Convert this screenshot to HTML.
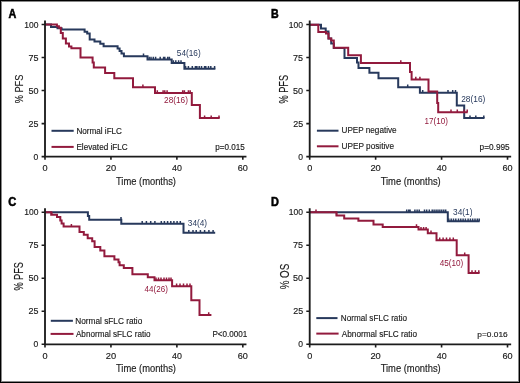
<!DOCTYPE html>
<html><head><meta charset="utf-8"><style>html,body{margin:0;padding:0;background:#fff;width:520px;height:383px;overflow:hidden}</style></head>
<body><svg width="520" height="383" viewBox="0 0 520 383" style="display:block;filter:blur(0.3px);font-family:'Liberation Sans', sans-serif">
<rect x="0" y="0" width="520" height="383" fill="#fff"/>
<path d="M45 24.6H51V27H57.5V28.2H61.6V29.5H84.6V31.8H87.2V33.5H89.7V39.5H94.5V41.4H100.3V43.8H103.6V46.2H117.6V48.6H119.6V51.1H121.5V53.5H123.9V56.2H147.5V59.5H171.7V63.0H184.4V68.8H215.4" stroke="#27395c" stroke-width="2.0" fill="none" stroke-linejoin="miter" stroke-linecap="butt"/><path d="M143.5 56.2V53.5M149.2 59.5V56.8M151 59.5V56.8M153.3 59.5V56.8M155.6 59.5V56.8M160.2 59.5V56.8M163.6 59.5V56.8M164.8 59.5V56.8M167.7 59.5V56.8M169.4 59.5V56.8M173.4 63.0V60.3M175.8 63.0V60.3M178.6 63.0V60.3M181 63.0V60.3M185.6 68.8V66.1M188.4 68.8V66.1M192.3 68.8V66.1M195.4 68.8V66.1M196.9 68.8V66.1M199.2 68.8V66.1M201.5 68.8V66.1M204.6 68.8V66.1M205.8 68.8V66.1M208.5 68.8V66.1M210.8 68.8V66.1M214.6 68.8V66.1" stroke="#27395c" stroke-width="1.5" fill="none"/><path d="M45 24.6H56.9V26.3H58.9V27.8H60.8V32.9H62.8V38.4H65.9V43.5H69.0V46.6H71.4V48.2H80.5V57.5H92.6V62.5H93.8V67.5H105.1V72.9H114.3V78.3H133.0V87.3H155.0V93.0H191.8V105.1H199.9V118.1H219.7" stroke="#921a3d" stroke-width="2.0" fill="none" stroke-linejoin="miter" stroke-linecap="butt"/><path d="M142.9 87.3V84.6M157.3 93.0V90.3M163.1 93.0V90.3M164.8 93.0V90.3M167.1 93.0V90.3M182.7 93.0V90.3M184.4 93.0V90.3M188.4 93.0V90.3M190.2 93.0V90.3M204.6 118.1V115.39999999999999M211.2 118.1V115.39999999999999M219.0 118.1V115.39999999999999" stroke="#921a3d" stroke-width="1.5" fill="none"/><path d="M309.7 24.7H321V28.5H325.7V31.5H328.5V38.5H331.2V43.5H333.8V48.0H344.5V57.9H357.0V62.4H358.5V67.9H369.4V72.8H378.5V78.2H398.2V87.2H419.9V92.7H456.8V105.4H464.2V118.1H484.5" stroke="#27395c" stroke-width="2.0" fill="none" stroke-linejoin="miter" stroke-linecap="butt"/><path d="M407.7 87.2V84.5M422.7 92.7V90.0M448 92.7V90.0M452.7 92.7V90.0M455.5 92.7V90.0M470 118.1V115.39999999999999M475.8 118.1V115.39999999999999M483.8 118.1V115.39999999999999" stroke="#27395c" stroke-width="1.5" fill="none"/><path d="M309.7 24.7H318.3V32.0H326.0V33.5H328.5V38.5H331.2V40.5H333.8V47.8H348.2V55.2H360.9V63.0H410.0V71.9H411.6V79.5H428.5V91.5H437.2V103.1H438.2V112.3H467.7" stroke="#921a3d" stroke-width="2.0" fill="none" stroke-linejoin="miter" stroke-linecap="butt"/><path d="M400.8 63.0V60.3M415.8 79.5V76.8M419.9 79.5V76.8M451 112.3V109.6M457.3 112.3V109.6M464.2 112.3V109.6M467.2 112.3V109.6" stroke="#921a3d" stroke-width="1.5" fill="none"/><path d="M45 212.2H87.9V215.9H89.2V219.8H121.3V223.7H183.5V232.8H215.2" stroke="#27395c" stroke-width="2.0" fill="none" stroke-linejoin="miter" stroke-linecap="butt"/><path d="M121 219.8V217.10000000000002M142.2 223.7V221.0M146.4 223.7V221.0M150.7 223.7V221.0M154.9 223.7V221.0M161.3 223.7V221.0M164.4 223.7V221.0M167.6 223.7V221.0M170.8 223.7V221.0M173.9 223.7V221.0M177.1 223.7V221.0M180.3 223.7V221.0M188.8 232.8V230.10000000000002M193 232.8V230.10000000000002M196.2 232.8V230.10000000000002M200.4 232.8V230.10000000000002M204.6 232.8V230.10000000000002M208.9 232.8V230.10000000000002M213.1 232.8V230.10000000000002" stroke="#27395c" stroke-width="1.5" fill="none"/><path d="M45 212.2H51.2V214.8H57.0V217.1H60.3V220.4H61.6V223.6H63.6V226.6H79.5V232.1H83.8V234.7H87.7V238.2H92.2V241.2H94.6V247.1H100.3V250.6H104.4V256.2H114.4V259.4H118.5V262.3H119.6V265.2H123.8V268.0H132.4V274.2H147.8V277.3H154.5V280.2H172.1V286.2H191.3V300.3H199.5V315.0H211.4" stroke="#921a3d" stroke-width="2.0" fill="none" stroke-linejoin="miter" stroke-linecap="butt"/><path d="M51.8 214.8V212.10000000000002M71.4 226.6V223.9M156 280.2V277.5M158.5 280.2V277.5M161 280.2V277.5M164 280.2V277.5M166.5 280.2V277.5M169 280.2V277.5M171 280.2V277.5M176.6 286.2V283.5M180 286.2V283.5M183.5 286.2V283.5M187 286.2V283.5M190 286.2V283.5M208.7 315.0V312.3" stroke="#921a3d" stroke-width="1.5" fill="none"/><path d="M309.7 212.3H447.8V221.3H479.7" stroke="#27395c" stroke-width="2.0" fill="none" stroke-linejoin="miter" stroke-linecap="butt"/><path d="M406.7 212.3V209.60000000000002M408.7 212.3V209.60000000000002M410.1 212.3V209.60000000000002M414.9 212.3V209.60000000000002M417.1 212.3V209.60000000000002M419.2 212.3V209.60000000000002M424.5 212.3V209.60000000000002M426.7 212.3V209.60000000000002M429.3 212.3V209.60000000000002M432.2 212.3V209.60000000000002M434.1 212.3V209.60000000000002M436.1 212.3V209.60000000000002M438 212.3V209.60000000000002M439.9 212.3V209.60000000000002M441.8 212.3V209.60000000000002M443.8 212.3V209.60000000000002M445.7 212.3V209.60000000000002M448.8 221.3V218.60000000000002M451.2 221.3V218.60000000000002M453.5 221.3V218.60000000000002M455.8 221.3V218.60000000000002M458.5 221.3V218.60000000000002M460.8 221.3V218.60000000000002M463.1 221.3V218.60000000000002M465.4 221.3V218.60000000000002M468.1 221.3V218.60000000000002M470.4 221.3V218.60000000000002M472.7 221.3V218.60000000000002M475 221.3V218.60000000000002M477.3 221.3V218.60000000000002M479.2 221.3V218.60000000000002" stroke="#27395c" stroke-width="1.5" fill="none"/><path d="M309.7 212.3H336.5V215.4H344.2V218.5H358.4V220.7H373.5V224.4H382.7V226.9H418.5V229.6H427.8V233.2H436.5V240.3H456.7V255.3H468.6V272.9H479.6" stroke="#921a3d" stroke-width="2.0" fill="none" stroke-linejoin="miter" stroke-linecap="butt"/><path d="M316 212.3V209.60000000000002M336.5 215.4V212.70000000000002M416.5 226.9V224.20000000000002M421 229.6V226.9M423.6 229.6V226.9M426.1 229.6V226.9M431 233.2V230.5M439.7 240.3V237.60000000000002M443.1 240.3V237.60000000000002M446.5 240.3V237.60000000000002M449.9 240.3V237.60000000000002M453.3 240.3V237.60000000000002M464.7 255.3V252.60000000000002M472 272.9V270.2M475.4 272.9V270.2M478.8 272.9V270.2" stroke="#921a3d" stroke-width="1.5" fill="none"/><path d="M51.5 130.8H73.7" stroke="#27395c" stroke-width="2"/><path d="M51.5 146.9H73.7" stroke="#921a3d" stroke-width="2"/><path d="M316.9 130.7H338.5" stroke="#27395c" stroke-width="2"/><path d="M316.9 146.3H338.5" stroke="#921a3d" stroke-width="2"/><path d="M50.8 320.8H72.9" stroke="#27395c" stroke-width="2"/><path d="M50.6 333.9H73.5" stroke="#921a3d" stroke-width="2"/><path d="M316.3 318.1H337.5" stroke="#27395c" stroke-width="2"/><path d="M316.3 333.6H338.6" stroke="#921a3d" stroke-width="2"/>
<path d="M45.00 20.46V157.60M44.00 156.60H246.45" stroke="#1c1c1c" stroke-width="1.85" fill="none"/><path d="M41.60 24.55H45.00M41.60 57.56H45.00M41.60 90.57H45.00M41.60 123.59H45.00M41.60 156.60H45.00M45.00 156.60V159.80M110.94 156.60V159.80M176.88 156.60V159.80M242.82 156.60V159.80" stroke="#1c1c1c" stroke-width="1.6" fill="none"/><path d="M309.70 20.46V157.60M308.70 156.60H511.15" stroke="#1c1c1c" stroke-width="1.85" fill="none"/><path d="M306.30 24.55H309.70M306.30 57.56H309.70M306.30 90.57H309.70M306.30 123.59H309.70M306.30 156.60H309.70M309.70 156.60V159.80M375.64 156.60V159.80M441.58 156.60V159.80M507.52 156.60V159.80" stroke="#1c1c1c" stroke-width="1.6" fill="none"/><path d="M45.00 208.16V345.30M44.00 344.30H246.45" stroke="#1c1c1c" stroke-width="1.85" fill="none"/><path d="M41.60 212.25H45.00M41.60 245.26H45.00M41.60 278.27H45.00M41.60 311.29H45.00M41.60 344.30H45.00M45.00 344.30V347.50M110.94 344.30V347.50M176.88 344.30V347.50M242.82 344.30V347.50" stroke="#1c1c1c" stroke-width="1.6" fill="none"/><path d="M309.70 208.16V345.30M308.70 344.30H511.15" stroke="#1c1c1c" stroke-width="1.85" fill="none"/><path d="M306.30 212.25H309.70M306.30 245.26H309.70M306.30 278.27H309.70M306.30 311.29H309.70M306.30 344.30H309.70M309.70 344.30V347.50M375.64 344.30V347.50M441.58 344.30V347.50M507.52 344.30V347.50" stroke="#1c1c1c" stroke-width="1.6" fill="none"/>
<text transform="translate(8.48,18.35) scale(0.8532,1)" font-size="12.61" font-weight="700" fill="#000" stroke="#000" stroke-width="0.55">A</text>
<text transform="translate(270.95,18.35) scale(0.8451,1)" font-size="12.61" font-weight="700" fill="#000" stroke="#000" stroke-width="0.55">B</text>
<text transform="translate(8.36,205.65) scale(0.8685,1)" font-size="12.75" font-weight="700" fill="#000" stroke="#000" stroke-width="0.55">C</text>
<text transform="translate(270.93,205.55) scale(0.8612,1)" font-size="12.75" font-weight="700" fill="#000" stroke="#000" stroke-width="0.55">D</text>
<text transform="translate(24.17,27.50) scale(0.9478,1)" font-size="8.99" font-weight="400" fill="#1a1a1a" stroke="#1a1a1a" stroke-width="0.15">100</text>
<text transform="translate(28.40,60.51) scale(1.0038,1)" font-size="8.99" font-weight="400" fill="#1a1a1a" stroke="#1a1a1a" stroke-width="0.15">75</text>
<text transform="translate(28.39,93.52) scale(1.0049,1)" font-size="8.99" font-weight="400" fill="#1a1a1a" stroke="#1a1a1a" stroke-width="0.15">50</text>
<text transform="translate(28.50,126.54) scale(0.9929,1)" font-size="8.99" font-weight="400" fill="#1a1a1a" stroke="#1a1a1a" stroke-width="0.15">25</text>
<text transform="translate(33.61,159.55) scale(0.9506,1)" font-size="8.99" font-weight="400" fill="#1a1a1a" stroke="#1a1a1a" stroke-width="0.15">0</text>
<text transform="translate(42.43,170.95) scale(1.0202,1)" font-size="8.99" font-weight="400" fill="#1a1a1a" stroke="#1a1a1a" stroke-width="0.15">0</text>
<text transform="translate(105.72,170.95) scale(1.0365,1)" font-size="8.99" font-weight="400" fill="#1a1a1a" stroke="#1a1a1a" stroke-width="0.15">20</text>
<text transform="translate(172.05,170.95) scale(0.9857,1)" font-size="8.99" font-weight="400" fill="#1a1a1a" stroke="#1a1a1a" stroke-width="0.15">40</text>
<text transform="translate(237.71,170.95) scale(1.0147,1)" font-size="8.99" font-weight="400" fill="#1a1a1a" stroke="#1a1a1a" stroke-width="0.15">60</text>
<text transform="translate(115.96,184.75) scale(0.8993,1)" font-size="10.43" font-weight="400" fill="#1a1a1a" stroke="#1a1a1a" stroke-width="0.15">Time (months)</text>
<text transform="translate(288.87,27.50) scale(0.9478,1)" font-size="8.99" font-weight="400" fill="#1a1a1a" stroke="#1a1a1a" stroke-width="0.15">100</text>
<text transform="translate(293.10,60.51) scale(1.0038,1)" font-size="8.99" font-weight="400" fill="#1a1a1a" stroke="#1a1a1a" stroke-width="0.15">75</text>
<text transform="translate(293.09,93.52) scale(1.0049,1)" font-size="8.99" font-weight="400" fill="#1a1a1a" stroke="#1a1a1a" stroke-width="0.15">50</text>
<text transform="translate(293.20,126.54) scale(0.9929,1)" font-size="8.99" font-weight="400" fill="#1a1a1a" stroke="#1a1a1a" stroke-width="0.15">25</text>
<text transform="translate(298.31,159.55) scale(0.9506,1)" font-size="8.99" font-weight="400" fill="#1a1a1a" stroke="#1a1a1a" stroke-width="0.15">0</text>
<text transform="translate(307.13,170.95) scale(1.0202,1)" font-size="8.99" font-weight="400" fill="#1a1a1a" stroke="#1a1a1a" stroke-width="0.15">0</text>
<text transform="translate(370.42,170.95) scale(1.0365,1)" font-size="8.99" font-weight="400" fill="#1a1a1a" stroke="#1a1a1a" stroke-width="0.15">20</text>
<text transform="translate(436.75,170.95) scale(0.9857,1)" font-size="8.99" font-weight="400" fill="#1a1a1a" stroke="#1a1a1a" stroke-width="0.15">40</text>
<text transform="translate(502.41,170.95) scale(1.0147,1)" font-size="8.99" font-weight="400" fill="#1a1a1a" stroke="#1a1a1a" stroke-width="0.15">60</text>
<text transform="translate(380.66,184.75) scale(0.8993,1)" font-size="10.43" font-weight="400" fill="#1a1a1a" stroke="#1a1a1a" stroke-width="0.15">Time (months)</text>
<text transform="translate(24.17,215.20) scale(0.9478,1)" font-size="8.99" font-weight="400" fill="#1a1a1a" stroke="#1a1a1a" stroke-width="0.15">100</text>
<text transform="translate(28.40,248.21) scale(1.0038,1)" font-size="8.99" font-weight="400" fill="#1a1a1a" stroke="#1a1a1a" stroke-width="0.15">75</text>
<text transform="translate(28.39,281.22) scale(1.0049,1)" font-size="8.99" font-weight="400" fill="#1a1a1a" stroke="#1a1a1a" stroke-width="0.15">50</text>
<text transform="translate(28.50,314.24) scale(0.9929,1)" font-size="8.99" font-weight="400" fill="#1a1a1a" stroke="#1a1a1a" stroke-width="0.15">25</text>
<text transform="translate(33.61,347.25) scale(0.9506,1)" font-size="8.99" font-weight="400" fill="#1a1a1a" stroke="#1a1a1a" stroke-width="0.15">0</text>
<text transform="translate(42.43,358.65) scale(1.0202,1)" font-size="8.99" font-weight="400" fill="#1a1a1a" stroke="#1a1a1a" stroke-width="0.15">0</text>
<text transform="translate(105.72,358.65) scale(1.0365,1)" font-size="8.99" font-weight="400" fill="#1a1a1a" stroke="#1a1a1a" stroke-width="0.15">20</text>
<text transform="translate(172.05,358.65) scale(0.9857,1)" font-size="8.99" font-weight="400" fill="#1a1a1a" stroke="#1a1a1a" stroke-width="0.15">40</text>
<text transform="translate(237.71,358.65) scale(1.0147,1)" font-size="8.99" font-weight="400" fill="#1a1a1a" stroke="#1a1a1a" stroke-width="0.15">60</text>
<text transform="translate(115.96,372.45) scale(0.8993,1)" font-size="10.43" font-weight="400" fill="#1a1a1a" stroke="#1a1a1a" stroke-width="0.15">Time (months)</text>
<text transform="translate(288.87,215.20) scale(0.9478,1)" font-size="8.99" font-weight="400" fill="#1a1a1a" stroke="#1a1a1a" stroke-width="0.15">100</text>
<text transform="translate(293.10,248.21) scale(1.0038,1)" font-size="8.99" font-weight="400" fill="#1a1a1a" stroke="#1a1a1a" stroke-width="0.15">75</text>
<text transform="translate(293.09,281.22) scale(1.0049,1)" font-size="8.99" font-weight="400" fill="#1a1a1a" stroke="#1a1a1a" stroke-width="0.15">50</text>
<text transform="translate(293.20,314.24) scale(0.9929,1)" font-size="8.99" font-weight="400" fill="#1a1a1a" stroke="#1a1a1a" stroke-width="0.15">25</text>
<text transform="translate(298.31,347.25) scale(0.9506,1)" font-size="8.99" font-weight="400" fill="#1a1a1a" stroke="#1a1a1a" stroke-width="0.15">0</text>
<text transform="translate(307.13,358.65) scale(1.0202,1)" font-size="8.99" font-weight="400" fill="#1a1a1a" stroke="#1a1a1a" stroke-width="0.15">0</text>
<text transform="translate(370.42,358.65) scale(1.0365,1)" font-size="8.99" font-weight="400" fill="#1a1a1a" stroke="#1a1a1a" stroke-width="0.15">20</text>
<text transform="translate(436.75,358.65) scale(0.9857,1)" font-size="8.99" font-weight="400" fill="#1a1a1a" stroke="#1a1a1a" stroke-width="0.15">40</text>
<text transform="translate(502.41,358.65) scale(1.0147,1)" font-size="8.99" font-weight="400" fill="#1a1a1a" stroke="#1a1a1a" stroke-width="0.15">60</text>
<text transform="translate(380.66,372.45) scale(0.8993,1)" font-size="10.43" font-weight="400" fill="#1a1a1a" stroke="#1a1a1a" stroke-width="0.15">Time (months)</text>
<text transform="translate(22.95,103.32) rotate(-90) scale(0.8251,1)" font-size="11.16" font-weight="400" fill="#1a1a1a" stroke="#1a1a1a" stroke-width="0.15">% PFS</text>
<text transform="translate(287.55,103.52) rotate(-90) scale(0.7475,1)" font-size="12.32" font-weight="400" fill="#1a1a1a" stroke="#1a1a1a" stroke-width="0.15">% PFS</text>
<text transform="translate(23.45,290.62) rotate(-90) scale(0.7475,1)" font-size="12.32" font-weight="400" fill="#1a1a1a" stroke="#1a1a1a" stroke-width="0.15">% PFS</text>
<text transform="translate(288.65,289.34) rotate(-90) scale(0.7957,1)" font-size="12.32" font-weight="400" fill="#1a1a1a" stroke="#1a1a1a" stroke-width="0.15">% OS</text>
<text transform="translate(76.40,133.55) scale(0.9522,1)" font-size="8.55" font-weight="400" fill="#1a1a1a" stroke="#1a1a1a" stroke-width="0.15">Normal iFLC</text>
<text transform="translate(76.39,149.65) scale(0.9588,1)" font-size="8.55" font-weight="400" fill="#1a1a1a" stroke="#1a1a1a" stroke-width="0.15">Elevated iFLC</text>
<text transform="translate(341.50,133.35) scale(0.8940,1)" font-size="9.13" font-weight="400" fill="#1a1a1a" stroke="#1a1a1a" stroke-width="0.15">UPEP negative</text>
<text transform="translate(341.49,149.15) scale(0.9042,1)" font-size="9.13" font-weight="400" fill="#1a1a1a" stroke="#1a1a1a" stroke-width="0.15">UPEP positive</text>
<text transform="translate(75.29,323.65) scale(0.9344,1)" font-size="8.84" font-weight="400" fill="#1a1a1a" stroke="#1a1a1a" stroke-width="0.15">Normal sFLC ratio</text>
<text transform="translate(75.95,336.85) scale(0.9057,1)" font-size="8.99" font-weight="400" fill="#1a1a1a" stroke="#1a1a1a" stroke-width="0.15">Abnormal sFLC ratio</text>
<text transform="translate(340.80,321.05) scale(0.9095,1)" font-size="8.99" font-weight="400" fill="#1a1a1a" stroke="#1a1a1a" stroke-width="0.15">Normal sFLC ratio</text>
<text transform="translate(341.85,337.05) scale(0.9118,1)" font-size="8.99" font-weight="400" fill="#1a1a1a" stroke="#1a1a1a" stroke-width="0.15">Abnormal sFLC ratio</text>
<text transform="translate(215.28,150.35) scale(0.9639,1)" font-size="8.41" font-weight="400" fill="#1a1a1a" stroke="#1a1a1a" stroke-width="0.15">p=0.015</text>
<text transform="translate(479.57,150.25) scale(0.9674,1)" font-size="8.55" font-weight="400" fill="#1a1a1a" stroke="#1a1a1a" stroke-width="0.15">p=0.995</text>
<text transform="translate(212.40,336.65) scale(0.9648,1)" font-size="8.41" font-weight="400" fill="#1a1a1a" stroke="#1a1a1a" stroke-width="0.15">P&lt;0.0001</text>
<text transform="translate(477.27,336.85) scale(1.0297,1)" font-size="8.12" font-weight="400" fill="#1a1a1a" stroke="#1a1a1a" stroke-width="0.15">p=0.016</text>
<text transform="translate(176.82,56.25) scale(0.9480,1)" font-size="8.70" font-weight="400" fill="#27395c" stroke="#27395c" stroke-width="0">54(16)</text>
<text transform="translate(164.04,103.25) scale(0.9514,1)" font-size="8.70" font-weight="400" fill="#921a3d" stroke="#921a3d" stroke-width="0">28(16)</text>
<text transform="translate(461.23,102.05) scale(0.9288,1)" font-size="8.99" font-weight="400" fill="#27395c" stroke="#27395c" stroke-width="0">28(16)</text>
<text transform="translate(424.50,123.65) scale(0.8881,1)" font-size="9.13" font-weight="400" fill="#921a3d" stroke="#921a3d" stroke-width="0">17(10)</text>
<text transform="translate(187.82,226.15) scale(0.9489,1)" font-size="8.70" font-weight="400" fill="#27395c" stroke="#27395c" stroke-width="0">34(4)</text>
<text transform="translate(144.59,291.55) scale(0.9568,1)" font-size="8.41" font-weight="400" fill="#921a3d" stroke="#921a3d" stroke-width="0">44(26)</text>
<text transform="translate(453.02,214.65) scale(0.9540,1)" font-size="8.70" font-weight="400" fill="#27395c" stroke="#27395c" stroke-width="0">34(1)</text>
<text transform="translate(439.69,266.45) scale(0.9259,1)" font-size="8.84" font-weight="400" fill="#921a3d" stroke="#921a3d" stroke-width="0">45(10)</text>
<path d="M0.5 0V383M0 0.5H520M519.5 0V383M0 382.5H520" stroke="#000" stroke-width="1" fill="none"/>
<path d="M1.5 1V382M1 1.5H519M518.5 1V382M1 381.5H519" stroke="#888" stroke-width="1" fill="none"/>
</svg></body></html>
